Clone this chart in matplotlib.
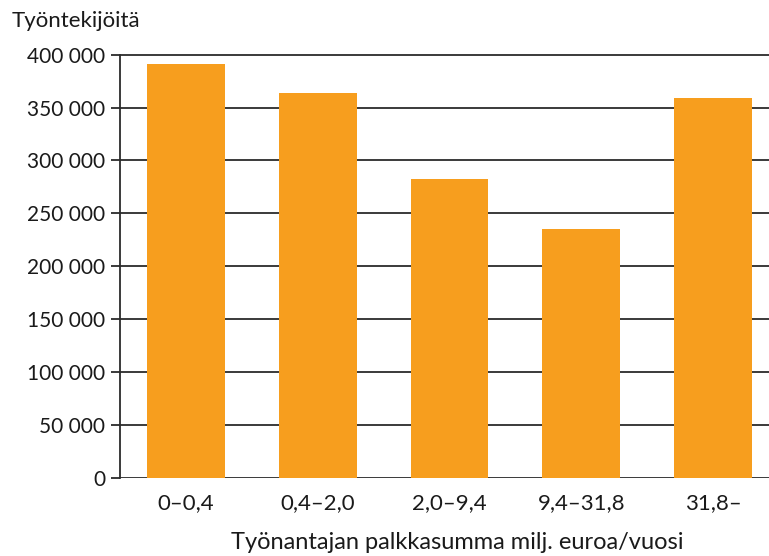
import matplotlib.pyplot as plt
from matplotlib.ticker import FuncFormatter

categories = ["0\u20130,4", "0,4\u20132,0", "2,0\u20139,4", "9,4\u201331,8", "31,8\u2013"]
workers = [391000, 364000, 282500, 235500, 359000]
y_ticks = [0, 50000, 100000, 150000, 200000, 250000, 300000, 350000, 400000]

BAR_COLOR = "#F79E1E"
LINE_COLOR = "#2b2b2b"
TEXT_COLOR = "#1a1a1a"

plt.rcParams["font.family"] = ["Lato", "DejaVu Sans"]

fig = plt.figure(figsize=(7.69, 5.56), dpi=100)
ax = fig.add_axes([120 / 769, 1 - 477.5 / 556, 1 - 120 / 769, (477.5 - 53.1) / 556])

xs = list(range(len(categories)))
ax.bar(xs, workers, width=0.59, color=BAR_COLOR, zorder=1)

ax.set_xlim(-0.5, 4.425)
ax.set_ylim(0, 401500)
ax.set_yticks(y_ticks)
ax.yaxis.set_major_formatter(FuncFormatter(lambda v, p: f"{int(v):,}".replace(",", " ")))
ax.set_xticks(xs)
ax.set_xticklabels(categories)

for y in y_ticks:
    ax.axhline(y, color=LINE_COLOR, lw=1.3, zorder=0.5)

for side in ("top", "right", "bottom"):
    ax.spines[side].set_visible(False)
ax.spines["left"].set_color(LINE_COLOR)
ax.spines["left"].set_linewidth(1.3)
ax.spines["left"].set_bounds(0, 400000)

ax.tick_params(axis="y", length=6.5, width=1.3, color=LINE_COLOR, pad=4,
               labelsize=15, labelcolor=TEXT_COLOR)
ax.tick_params(axis="x", length=0, pad=11, labelsize=16, labelcolor=TEXT_COLOR)

ax.set_xlabel("Työnantajan palkkasumma milj. euroa/vuosi", fontsize=17,
              color=TEXT_COLOR)
ax.xaxis.set_label_coords((457 - 120) / 649, -0.128)
fig.text(12 / 769, 1 - 27 / 556, "Työntekijöitä", fontsize=16, color=TEXT_COLOR,
         ha="left", va="baseline")

fig.savefig("out.png", dpi=100)
